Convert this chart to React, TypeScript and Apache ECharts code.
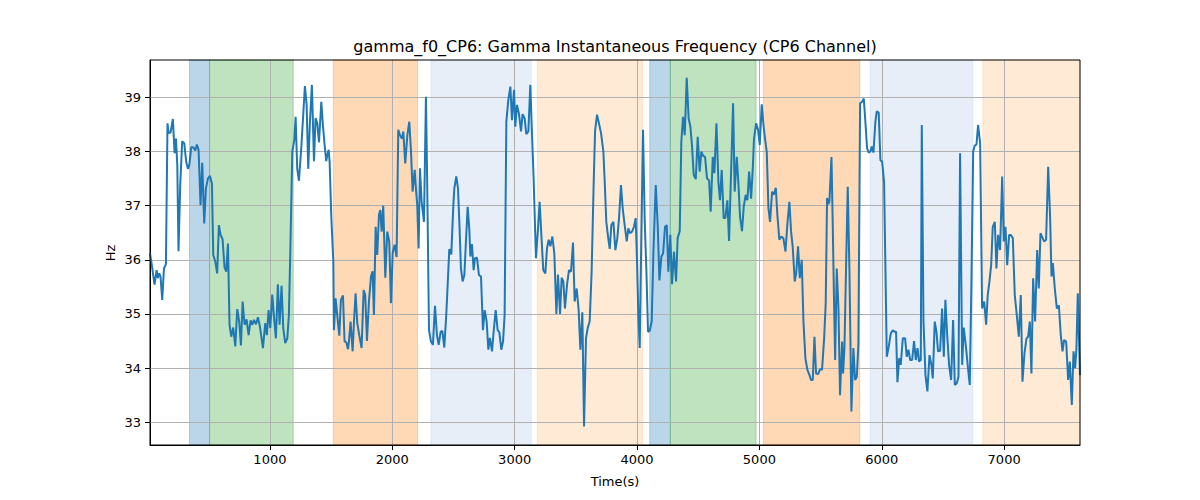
import React, { useEffect, useRef } from "react";
import * as echarts from "echarts";

const chartTitle = "gamma_f0_CP6: Gamma Instantaneous Frequency (CP6 Channel)";
const xLabel = "Time(s)";
const yLabel = "Hz";

const xTicks = [1000, 2000, 3000, 4000, 5000, 6000, 7000];
const yTicks = [33, 34, 35, 36, 37, 38, 39];
const xRange = [20, 7620];
const yRange = [32.58, 39.69];

// [time, Hz]
const gammaF0: [number, number][] = [
  [20, 36.12], [35, 35.9], [57, 35.54], [74, 35.81], [84, 35.66], [95, 35.75], [106, 35.69], [120, 35.26],
  [134, 35.84], [150, 35.92], [163, 38.52], [172, 38.34], [188, 38.35], [207, 38.6], [221, 37.97], [232, 38.24],
  [243, 37.75], [253, 36.16], [267, 37.38], [283, 38.19], [300, 38.15], [316, 37.81], [330, 37.68], [341, 37.75],
  [357, 38.08], [373, 38.08], [390, 38.02], [403, 38.13], [417, 38.03], [433, 37.01], [447, 37.79], [463, 36.67],
  [477, 37.32], [493, 37.5], [510, 37.55], [526, 37.41], [537, 36.09], [553, 35.97], [569, 35.75], [583, 36.64],
  [597, 36.46], [613, 36.38], [629, 35.86], [643, 35.78], [657, 36.3], [670, 34.8], [684, 34.58], [700, 34.75],
  [717, 34.4], [733, 35.09], [749, 34.86], [763, 34.42], [777, 35.23], [793, 34.8], [809, 34.9], [826, 34.61],
  [842, 34.88], [856, 34.8], [869, 34.89], [886, 34.81], [902, 34.94], [918, 34.77], [943, 34.37], [962, 34.83],
  [975, 34.61], [989, 35.07], [1003, 34.74], [1019, 35.36], [1033, 34.95], [1049, 34.55], [1065, 35.55], [1079, 34.8],
  [1095, 35.52], [1109, 34.74], [1125, 34.46], [1142, 34.55], [1155, 34.98], [1166, 36.09], [1183, 38.0], [1199, 38.21],
  [1210, 38.64], [1223, 37.69], [1237, 37.46], [1256, 38.06], [1272, 38.67], [1286, 39.21], [1300, 38.86], [1313, 37.68],
  [1327, 38.55], [1343, 39.23], [1360, 37.82], [1373, 38.62], [1387, 38.52], [1401, 38.17], [1420, 38.92], [1433, 38.49],
  [1447, 38.12], [1460, 37.82], [1469, 37.94], [1480, 38.03], [1488, 37.81], [1501, 36.83], [1518, 35.97], [1523, 34.7],
  [1537, 35.29], [1550, 34.98], [1567, 34.6], [1580, 35.26], [1597, 35.34], [1610, 34.49], [1624, 34.48], [1638, 34.35],
  [1646, 34.5], [1659, 34.86], [1676, 34.31], [1687, 34.86], [1700, 35.38], [1714, 34.83], [1730, 34.61], [1749, 34.37],
  [1766, 35.44], [1779, 35.35], [1793, 34.5], [1809, 35.23], [1826, 35.69], [1839, 35.79], [1850, 34.98], [1864, 36.61],
  [1877, 36.09], [1891, 36.83], [1902, 36.92], [1913, 36.52], [1926, 37.0], [1943, 35.67], [1959, 36.52], [1975, 36.34],
  [1989, 35.2], [2003, 36.12], [2019, 36.28], [2035, 36.05], [2049, 38.4], [2063, 38.3], [2079, 38.24], [2090, 38.37],
  [2106, 37.78], [2123, 38.3], [2139, 38.55], [2153, 38.0], [2166, 37.26], [2183, 37.66], [2193, 37.32], [2204, 37.01],
  [2215, 36.21], [2226, 37.69], [2240, 37.07], [2259, 36.7], [2275, 39.01], [2286, 37.32], [2300, 34.7], [2316, 34.49],
  [2332, 34.43], [2349, 35.15], [2365, 34.61], [2379, 34.43], [2395, 34.67], [2409, 34.69], [2425, 34.38], [2441, 34.98],
  [2455, 35.66], [2466, 36.2], [2482, 36.1], [2499, 37.01], [2507, 37.32], [2523, 37.54], [2537, 37.32], [2550, 36.58],
  [2561, 35.84], [2575, 35.6], [2589, 35.72], [2602, 36.34], [2616, 36.98], [2629, 36.58], [2638, 36.06], [2651, 36.29],
  [2665, 35.81], [2676, 36.03], [2692, 36.04], [2708, 35.72], [2725, 35.69], [2741, 34.7], [2755, 35.07], [2771, 34.86],
  [2785, 34.34], [2798, 34.56], [2815, 34.31], [2828, 34.67], [2845, 35.07], [2861, 34.7], [2875, 34.66], [2891, 34.34],
  [2905, 34.49], [2918, 34.98], [2932, 38.55], [2948, 38.95], [2965, 39.2], [2978, 38.58], [2995, 39.14], [3005, 38.46],
  [3019, 38.86], [3035, 38.7], [3052, 38.37], [3065, 38.69], [3082, 38.61], [3095, 38.32], [3112, 38.37], [3128, 39.23],
  [3139, 38.49], [3155, 37.5], [3174, 36.03], [3191, 36.58], [3204, 37.07], [3221, 36.34], [3234, 35.81], [3251, 35.75],
  [3264, 36.21], [3278, 36.37], [3292, 36.25], [3308, 36.43], [3324, 36.12], [3341, 35.0], [3354, 35.73], [3371, 35.0],
  [3384, 35.67], [3398, 35.6], [3411, 35.1], [3428, 35.54], [3444, 35.81], [3460, 35.78], [3477, 36.32], [3490, 35.23],
  [3507, 35.47], [3523, 35.07], [3537, 34.34], [3553, 35.03], [3567, 32.92], [3583, 34.55], [3597, 34.74], [3613, 34.86],
  [3629, 35.78], [3646, 37.44], [3657, 38.37], [3673, 38.68], [3689, 38.52], [3706, 38.34], [3725, 38.0], [3736, 37.44],
  [3749, 36.7], [3763, 36.43], [3777, 36.2], [3790, 36.64], [3807, 36.7], [3823, 36.18], [3839, 36.4], [3853, 36.77],
  [3869, 37.38], [3883, 36.95], [3899, 36.64], [3916, 36.34], [3929, 36.58], [3943, 36.49], [3959, 36.52], [3975, 36.61],
  [3989, 36.77], [4000, 35.97], [4011, 34.98], [4022, 34.37], [4035, 36.4], [4049, 38.4], [4063, 36.7], [4076, 35.84],
  [4090, 34.67], [4104, 34.69], [4120, 34.86], [4134, 36.15], [4153, 37.38], [4169, 36.64], [4183, 35.62], [4199, 36.06],
  [4213, 36.12], [4229, 36.61], [4243, 36.64], [4256, 35.78], [4272, 36.46], [4286, 35.55], [4302, 36.15], [4319, 35.6],
  [4332, 36.4], [4349, 36.53], [4362, 38.18], [4376, 38.64], [4390, 38.3], [4406, 39.36], [4422, 38.61], [4436, 38.46],
  [4450, 38.09], [4463, 37.57], [4480, 37.49], [4496, 38.27], [4512, 37.63], [4526, 38.0], [4540, 37.92], [4556, 37.9],
  [4572, 37.5], [4589, 37.47], [4602, 36.89], [4619, 37.9], [4632, 37.6], [4649, 38.52], [4665, 37.44], [4678, 37.1],
  [4692, 37.66], [4708, 36.77], [4722, 36.77], [4738, 37.1], [4752, 36.35], [4768, 37.57], [4785, 38.89], [4798, 37.26],
  [4815, 37.9], [4828, 37.44], [4842, 36.79], [4858, 36.53], [4872, 36.98], [4888, 37.2], [4902, 37.1], [4916, 37.63],
  [4932, 37.13], [4946, 37.69], [4956, 38.24], [4973, 38.52], [4989, 38.4], [5003, 38.12], [5019, 38.87], [5033, 38.49],
  [5046, 38.24], [5060, 38.0], [5074, 36.95], [5087, 36.7], [5104, 37.26], [5117, 37.2], [5134, 37.33], [5147, 36.83],
  [5163, 36.37], [5180, 36.43], [5196, 36.4], [5213, 36.15], [5229, 36.67], [5245, 37.07], [5259, 36.52], [5272, 36.25],
  [5289, 35.6], [5302, 35.78], [5316, 36.25], [5330, 35.66], [5346, 36.0], [5360, 34.86], [5376, 34.18], [5392, 33.97],
  [5409, 33.87], [5422, 33.78], [5436, 33.78], [5450, 34.58], [5463, 33.9], [5480, 33.89], [5496, 33.98], [5512, 33.97],
  [5529, 34.55], [5542, 35.2], [5553, 37.14], [5564, 37.03], [5572, 37.07], [5589, 37.9], [5599, 36.7], [5610, 35.23],
  [5619, 34.15], [5632, 35.84], [5646, 35.1], [5659, 33.5], [5676, 34.49], [5684, 33.9], [5695, 34.37], [5708, 35.84],
  [5722, 37.35], [5736, 35.78], [5752, 33.2], [5768, 34.37], [5782, 33.78], [5796, 33.84], [5809, 34.43], [5823, 38.89],
  [5839, 38.92], [5853, 38.98], [5866, 38.55], [5880, 38.06], [5894, 37.98], [5907, 38.0], [5918, 38.09], [5932, 37.98],
  [5948, 38.55], [5959, 38.74], [5975, 38.72], [5989, 37.84], [6003, 37.81], [6019, 37.44], [6030, 35.84], [6041, 34.21],
  [6057, 34.4], [6074, 34.64], [6090, 34.7], [6106, 34.67], [6117, 34.67], [6128, 33.74], [6142, 34.18], [6155, 34.06],
  [6172, 34.55], [6191, 34.55], [6204, 34.21], [6218, 34.34], [6232, 34.15], [6248, 34.15], [6264, 34.5], [6278, 34.15],
  [6292, 34.37], [6305, 34.12], [6319, 34.15], [6327, 38.49], [6341, 34.86], [6357, 33.87], [6373, 33.57], [6390, 34.24],
  [6406, 34.06], [6417, 33.81], [6433, 34.86], [6447, 34.67], [6460, 34.31], [6477, 34.32], [6493, 35.1], [6507, 34.21],
  [6520, 35.26], [6534, 34.64], [6550, 34.06], [6567, 33.78], [6583, 34.89], [6597, 33.69], [6613, 33.72], [6627, 33.84],
  [6640, 37.97], [6657, 34.06], [6670, 34.75], [6689, 34.37], [6706, 33.97], [6719, 33.69], [6733, 35.6], [6747, 38.0],
  [6760, 38.11], [6774, 38.13], [6787, 38.49], [6804, 38.15], [6820, 35.1], [6837, 35.23], [6853, 34.8], [6866, 35.35],
  [6880, 35.6], [6894, 35.9], [6907, 36.61], [6924, 36.7], [6937, 35.84], [6951, 36.46], [6967, 36.18], [6984, 37.54],
  [6997, 36.34], [7011, 36.61], [7025, 35.9], [7041, 36.46], [7054, 36.46], [7071, 36.4], [7087, 35.35], [7106, 34.92],
  [7120, 34.58], [7136, 35.35], [7150, 33.75], [7166, 34.27], [7183, 34.55], [7196, 34.58], [7210, 34.86], [7223, 33.9],
  [7237, 35.66], [7253, 34.86], [7270, 36.18], [7283, 35.47], [7297, 36.49], [7313, 36.41], [7327, 36.34], [7343, 36.37],
  [7360, 37.72], [7376, 36.77], [7387, 35.69], [7398, 35.94], [7414, 35.47], [7431, 35.1], [7447, 35.16], [7463, 34.61],
  [7477, 34.31], [7490, 34.52], [7507, 34.49], [7523, 33.78], [7537, 34.12], [7553, 33.32], [7567, 34.31], [7580, 34.0],
  [7591, 34.37], [7602, 35.38], [7620, 33.87],
];

// shaded intervals: [start, end, kind]
const bands: [number, number, string][] = [
  [343, 507, "blue"],
  [507, 1191, "green"],
  [1518, 2207, "orange"],
  [2316, 3136, "lightblue"],
  [3185, 4044, "lightorange"],
  [4104, 4272, "blue"],
  [4272, 4973, "green"],
  [5033, 5820, "orange"],
  [5905, 6744, "lightblue"],
  [6826, 7620, "lightorange"],
];

const bandColors: Record<string, string> = {
  blue: "rgba(31,119,180,0.3)",
  green: "rgba(44,160,44,0.3)",
  orange: "rgba(255,127,14,0.3)",
  lightblue: "rgba(174,199,232,0.3)",
  lightorange: "rgba(255,187,120,0.3)",
};

const FONT = "DejaVu Sans";

export default function App() {
  const ref = useRef<HTMLDivElement>(null);

  useEffect(() => {
    if (!ref.current) return;
    const chart = echarts.init(ref.current, undefined, { renderer: "svg" });
    const gridLeft = 150;
    const gridTop = 60;
    const gridW = 930;
    const gridH = 385;

    chart.setOption({
      animation: false,
      backgroundColor: "#ffffff",
      grid: {
        left: gridLeft,
        top: gridTop,
        width: gridW,
        height: gridH,
        containLabel: false,
        outerBoundsMode: "none",
      },
      xAxis: {
        type: "value",
        min: xRange[0],
        max: xRange[1],
        splitLine: { show: false },
        axisLine: { show: true, onZero: false, lineStyle: { color: "#000", width: 1 } },
        axisTick: {
          show: true,
          length: 5,
          customValues: xTicks,
          lineStyle: { color: "#000", width: 1 },
        },
        axisLabel: {
          customValues: xTicks,
          margin: 8,
          color: "#000",
          fontSize: 13,
          fontFamily: FONT,
          formatter: (v: number) => String(v),
        },
      },
      yAxis: {
        type: "value",
        min: yRange[0],
        max: yRange[1],
        splitLine: { show: false },
        axisLine: { show: true, onZero: false, lineStyle: { color: "#000", width: 1 } },
        axisTick: {
          show: true,
          length: 5,
          customValues: yTicks,
          lineStyle: { color: "#000", width: 1 },
        },
        axisLabel: {
          customValues: yTicks,
          margin: 9,
          color: "#000",
          fontSize: 13,
          fontFamily: FONT,
          formatter: (v: number) => String(v),
        },
      },
      series: [
        {
          type: "line",
          data: gammaF0,
          z: 3,
          showSymbol: false,
          symbol: "none",
          lineStyle: { color: "#1f77b4", width: 2 },
          itemStyle: { color: "#1f77b4" },
          clip: true,
          markArea: {
            silent: true,
            z: 1,
            data: bands.map(([s, e, k]) => [
              {
                xAxis: s,
                itemStyle: { color: bandColors[k], borderColor: bandColors[k], borderWidth: 1 },
              },
              { xAxis: e },
            ]),
          },
          markLine: {
            silent: true,
            z: 2,
            symbol: ["none", "none"],
            label: { show: false },
            lineStyle: { color: "#b0b0b0", width: 1, type: "solid" },
            data: [
              ...xTicks.map((v) => ({ xAxis: v })),
              ...yTicks.map((v) => ({ yAxis: v })),
            ],
          },
        },
      ],
      graphic: [
        {
          type: "rect",
          z: 10,
          silent: true,
          shape: { x: gridLeft, y: gridTop, width: gridW, height: gridH },
          style: { fill: "none", stroke: "#000", lineWidth: 1 },
        },
        {
          type: "text",
          x: gridLeft + gridW / 2,
          y: 46,
          style: {
            text: chartTitle,
            font: `16px "${FONT}"`,
            fill: "#000",
            textAlign: "center",
            textVerticalAlign: "middle",
          },
        },
        {
          type: "text",
          x: gridLeft + gridW / 2,
          y: 481,
          style: {
            text: xLabel,
            font: `13px "${FONT}"`,
            fill: "#000",
            textAlign: "center",
            textVerticalAlign: "middle",
          },
        },
        {
          type: "text",
          x: 110,
          y: 253,
          rotation: Math.PI / 2,
          style: {
            text: yLabel,
            font: `13px "${FONT}"`,
            fill: "#000",
            textAlign: "center",
            textVerticalAlign: "middle",
          },
        },
      ],
    });

    return () => {
      chart.dispose();
    };
  }, []);

  return (
    <div
      ref={ref}
      style={{ position: "fixed", left: 0, top: 0, width: 1200, height: 500 }}
    />
  );
}
